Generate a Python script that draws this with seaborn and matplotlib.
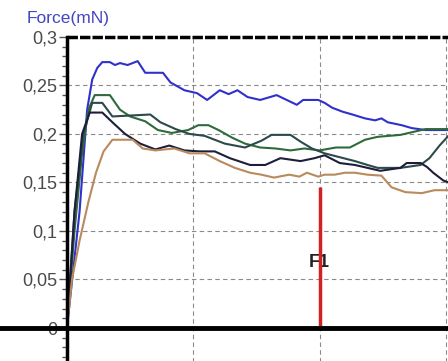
import pandas as pd
import numpy as np
import matplotlib
matplotlib.use('Agg')
import matplotlib.pyplot as plt
import seaborn as sns
from matplotlib.ticker import MultipleLocator, FixedLocator, FuncFormatter

# Force curves (time in 10 ms units, force in mN)
blue_t = [0, 10, 16, 20, 24, 28, 34, 38, 42, 48, 52, 56, 62, 76, 82, 93, 103, 111, 121, 128, 135,
          143, 153, 166, 174, 182, 187, 199, 204, 210, 218, 226, 236, 244, 249, 254, 265, 273, 284, 302]
blue_f = [0, 0.12, 0.225, 0.256, 0.268, 0.274, 0.274, 0.271, 0.273, 0.271, 0.273, 0.275, 0.263, 0.263,
          0.253, 0.245, 0.242, 0.235, 0.245, 0.241, 0.245, 0.238, 0.235, 0.240, 0.235, 0.230, 0.235,
          0.235, 0.232, 0.227, 0.223, 0.220, 0.216, 0.214, 0.216, 0.212, 0.209, 0.206, 0.204, 0.204]

green_t = [0, 6, 12, 17, 22, 34, 42, 50, 62, 72, 83, 96, 104, 112, 120, 131, 141, 153, 165, 177,
           188, 200, 213, 224, 236, 246, 264, 274, 284, 302]
green_f = [0, 0.10, 0.18, 0.225, 0.240, 0.240, 0.225, 0.218, 0.213, 0.204, 0.201, 0.204, 0.209,
           0.209, 0.204, 0.196, 0.190, 0.186, 0.185, 0.183, 0.185, 0.183, 0.186, 0.186, 0.194,
           0.197, 0.199, 0.202, 0.205, 0.205]

slate_t = [0, 6, 13, 20, 28, 36, 66, 74, 86, 97, 109, 125, 141, 154, 162, 177, 185, 194, 204, 216,
           228, 238, 246, 264, 280, 287, 295, 302]
slate_f = [0, 0.12, 0.20, 0.232, 0.232, 0.218, 0.220, 0.212, 0.205, 0.200, 0.198, 0.190, 0.186,
           0.193, 0.199, 0.199, 0.192, 0.185, 0.180, 0.176, 0.172, 0.168, 0.165, 0.165, 0.168,
           0.175, 0.188, 0.198]

navy_t = [0, 6, 12, 18, 28, 36, 46, 58, 70, 81, 93, 105, 117, 129, 145, 157, 169, 185, 196, 204,
          216, 228, 238, 248, 264, 269, 280, 285, 290, 298, 302]
navy_f = [0, 0.12, 0.20, 0.222, 0.222, 0.212, 0.200, 0.190, 0.184, 0.188, 0.183, 0.182, 0.182,
          0.175, 0.168, 0.168, 0.175, 0.172, 0.175, 0.178, 0.170, 0.168, 0.165, 0.162, 0.165,
          0.170, 0.170, 0.166, 0.160, 0.152, 0.150]

tan_t = [0, 4, 10, 17, 23, 29, 36, 52, 60, 70, 85, 97, 109, 121, 133, 145, 154, 164, 176, 184,
         190, 199, 204, 212, 220, 228, 238, 249, 257, 268, 281, 291, 302]
tan_f = [0, 0.05, 0.09, 0.13, 0.16, 0.182, 0.194, 0.194, 0.185, 0.183, 0.185, 0.180, 0.180, 0.172,
         0.165, 0.160, 0.158, 0.155, 0.158, 0.156, 0.160, 0.156, 0.158, 0.158, 0.160, 0.160, 0.158,
         0.157, 0.145, 0.140, 0.139, 0.142, 0.142]

f1_t = 200
f1_force = 0.145

y_major = [0, 0.05, 0.1, 0.15, 0.2, 0.25, 0.3]
y_labels = ['0', '0,05', '0,1', '0,15', '0,2', '0,25', '0,3']

curves = {'blue': (blue_t, blue_f), 'green': (green_t, green_f), 'slate': (slate_t, slate_f),
          'navy': (navy_t, navy_f), 'tan': (tan_t, tan_f)}
colors = {'blue': '#3030cc', 'green': '#2f6a3c', 'slate': '#2c4a4a', 'navy': '#1e1e3a', 'tan': '#b98a5c'}

rows = []
for name, (t, f) in curves.items():
    for ti, fi in zip(t, f):
        rows.append({'curve': name, 'time': ti, 'force': fi})
df = pd.DataFrame(rows)

sns.set_style('white')
plt.rcParams['font.family'] = ['Liberation Sans', 'DejaVu Sans']

fig = plt.figure(figsize=(4.48, 3.61), dpi=100)
ax = fig.add_axes([0, 0, 1, 1])
ax.set_xlim(-53, 301.7)
ax.set_ylim(-0.034, 0.338)

# grid, kept inside the frame
for y in y_major[1:-1]:
    ax.hlines(y, 0, 310, colors='#8a8a8a', linestyles=(0, (4, 3)), linewidth=0.8, zorder=1)
for x in [100, 200, 300]:
    ax.vlines(x, -0.04, 0.3, colors='#8a8a8a', linestyles=(0, (4, 3)), linewidth=0.8, zorder=1)

# dashed top border
ax.hlines(0.3, 0, 310, colors='black', linestyles=(0, (3, 0.6)), linewidth=2.5, zorder=3)

sns.lineplot(data=df, x='time', y='force', hue='curve', palette=colors, sort=False,
             estimator=None, linewidth=1.5, legend=False, ax=ax, zorder=4)

ax.vlines(f1_t, 0, f1_force, colors='#d42020', linewidth=2.5, zorder=6)
ax.text(f1_t, 0.068, 'F1', ha='center', va='center', fontsize=13, fontweight='bold',
        color='#222222', zorder=5)

for s in ['top', 'right']:
    ax.spines[s].set_visible(False)
ax.spines['left'].set_position(('data', 0))
ax.spines['bottom'].set_position(('data', 0))
ax.spines['left'].set_bounds(-0.04, 0.3)
ax.spines['left'].set_linewidth(2.5)
ax.spines['bottom'].set_linewidth(3.5)
ax.spines['left'].set_color('black')
ax.spines['bottom'].set_color('black')
ax.spines['left'].set_zorder(7)
ax.spines['bottom'].set_zorder(7)

ax.set_xticks([])
ax.yaxis.set_major_locator(FixedLocator(y_major))
ax.yaxis.set_minor_locator(FixedLocator([i / 100 for i in range(-3, 31)]))
ax.set_yticklabels(y_labels)
ax.tick_params(axis='y', which='major', direction='out', length=6, width=1, color='#555555',
               labelsize=13, labelcolor='#4a4a4a', pad=1, left=True)
ax.tick_params(axis='y', which='minor', direction='out', length=3.5, width=1, color='#555555', left=True)
ax.set_xlabel('')
ax.set_ylabel('')

fig.text(27 / 448, 1 - 18 / 361, 'Force(mN)', ha='left', va='center', fontsize=12.5, color='#4444c4')

fig.savefig('out.png', dpi=100)
